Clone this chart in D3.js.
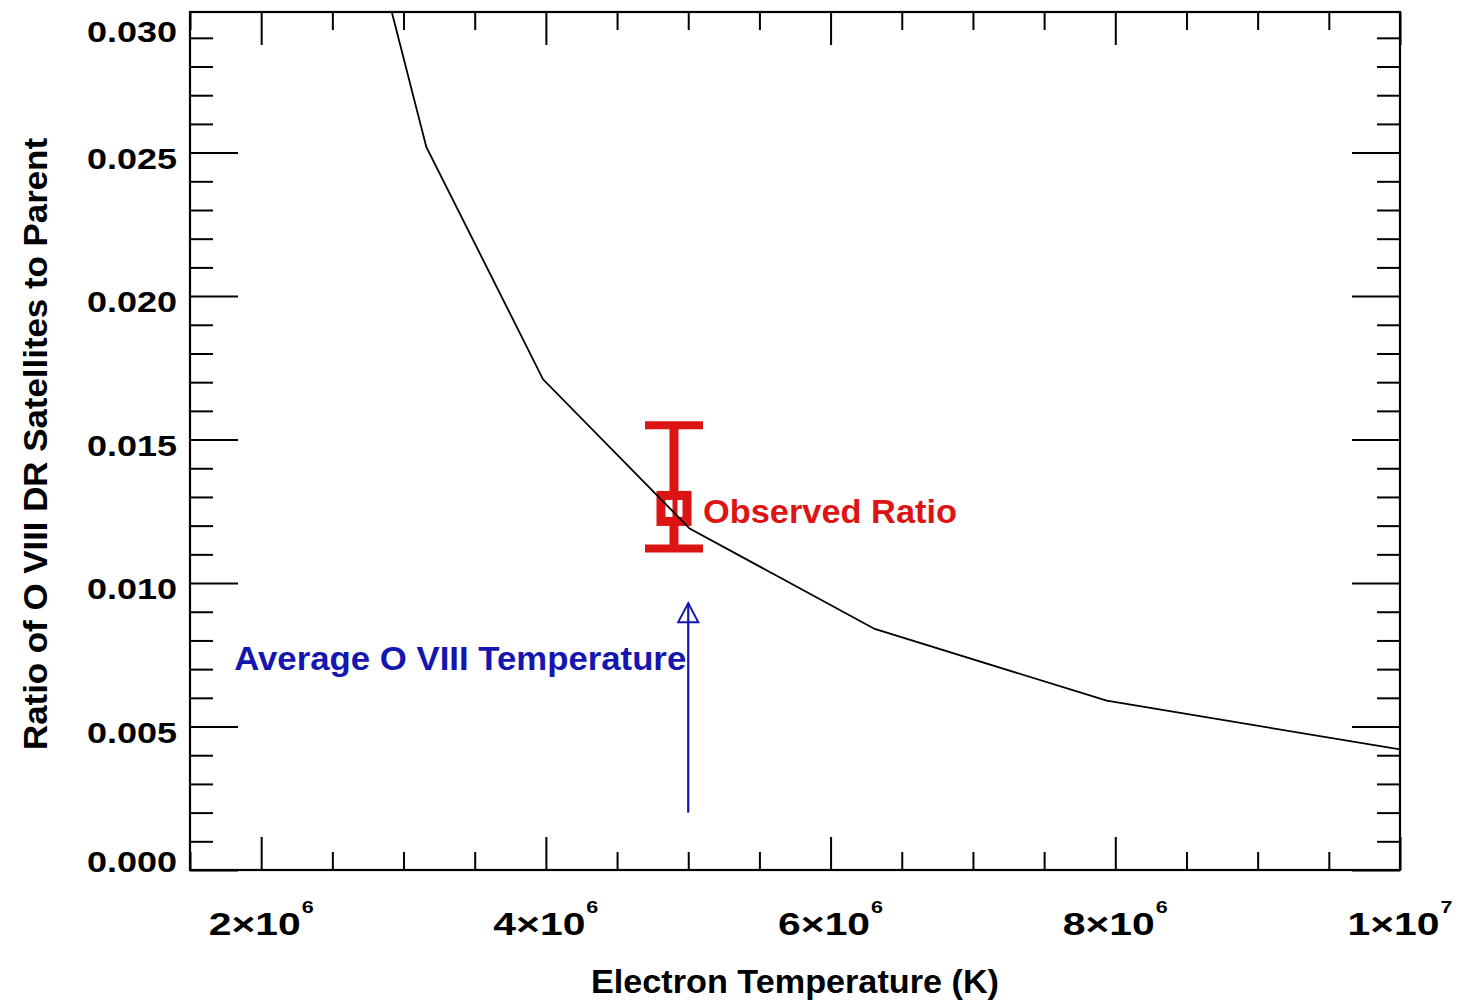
<!DOCTYPE html>
<html>
<head>
<meta charset="utf-8">
<script src="https://cdn.jsdelivr.net/npm/d3@7"></script>
<style>
  html, body { margin: 0; padding: 0; background: #fff; }
  svg { display: block; }
  text { font-family: "Liberation Sans", Arial, Helvetica, sans-serif; font-weight: bold; }
</style>
</head>
<body>
<svg id="chart" width="1462" height="1001"></svg>
<script>
// ---- data ----
const temps  = [2.51e6, 3.16e6, 3.98e6, 5.01e6, 6.31e6, 7.94e6, 1.0e7];
const ratios = [0.0378, 0.0252, 0.0171, 0.0119, 0.0084, 0.0059, 0.0042];

const obsT     = [4.9e6];
const obsRatio = [0.0126];
const obsLow   = [0.0112];
const obsHigh  = [0.0155];
const obsLabel = "Observed Ratio";

const avgT       = [5.0e6];
const arrowFrom  = [0.0020];
const arrowTo    = [0.0093];
const avgLabel   = "Average O VIII Temperature";

const xMajorTicks = [2e6, 4e6, 6e6, 8e6, 1e7];
const xTickBase   = ["2×10", "4×10", "6×10", "8×10", "1×10"];
const xTickExp    = ["6", "6", "6", "6", "7"];
const yMajorTicks = [0, 0.005, 0.010, 0.015, 0.020, 0.025, 0.030];
const yTickLabels = ["0.000", "0.005", "0.010", "0.015", "0.020", "0.025", "0.030"];

const xTitle = "Electron Temperature (K)";
const yTitle = "Ratio of O VIII DR Satellites to Parent";

// ---- layout ----
const L = 190, R = 1400, T = 12, B = 870;
const svg = d3.select("#chart");
const x = d3.scaleLinear().domain([1.5e6, 1.0e7]).range([L, R]);
const y = d3.scaleLinear().domain([0, 0.0299]).range([B, T]);

const xMinor = d3.range(1.5e6, 1.0e7 + 1, 0.5e6).filter(v => !xMajorTicks.some(m => Math.abs(m - v) < 1));
const yMinor = d3.range(0, 0.0300001, 0.001).filter(v => !yMajorTicks.some(m => Math.abs(m - v) < 1e-7) && y(v) >= T);

const ink = "#000";

function tickAxis(gen, scale, vals, size, transform) {
  const g = svg.append("g").attr("transform", transform)
    .call(gen(scale).tickValues(vals).tickSize(size).tickFormat(""));
  g.select(".domain").remove();
  g.selectAll("line").attr("stroke", ink).attr("stroke-width", 2);
}
tickAxis(d3.axisTop, x, xMajorTicks, 33, `translate(0,${B})`);
tickAxis(d3.axisTop, x, xMinor, 18, `translate(0,${B})`);
tickAxis(d3.axisBottom, x, xMajorTicks, 33, `translate(0,${T})`);
tickAxis(d3.axisBottom, x, xMinor, 18, `translate(0,${T})`);
tickAxis(d3.axisRight, y, yMajorTicks.filter(v => y(v) >= T), 48, `translate(${L},0)`);
tickAxis(d3.axisRight, y, yMinor, 23, `translate(${L},0)`);
tickAxis(d3.axisLeft, y, yMajorTicks.filter(v => y(v) >= T), 48, `translate(${R},0)`);
tickAxis(d3.axisLeft, y, yMinor, 23, `translate(${R},0)`);

svg.append("rect").attr("x", L).attr("y", T).attr("width", R - L).attr("height", B - T)
  .attr("fill", "none").attr("stroke", ink).attr("stroke-width", 2.2);

xMajorTicks.forEach((v, i) => {
  const cx = x(v);
  const baseW = 92, supW = 13;
  const x0 = cx - (baseW + supW) / 2;
  svg.append("text").attr("x", x0).attr("y", 935).attr("font-size", 31)
    .attr("textLength", baseW).attr("lengthAdjust", "spacingAndGlyphs").text(xTickBase[i]);
  svg.append("text").attr("x", x0 + baseW + 1).attr("y", 913).attr("font-size", 17)
    .attr("textLength", supW - 1).attr("lengthAdjust", "spacingAndGlyphs").text(xTickExp[i]);
});
yMajorTicks.forEach((v, i) => {
  const by = Math.max(42, Math.min(872, y(v) + 16));
  svg.append("text").attr("x", 177).attr("y", by).attr("font-size", 30)
    .attr("text-anchor", "end")
    .attr("textLength", 90).attr("lengthAdjust", "spacingAndGlyphs").text(yTickLabels[i]);
});

svg.append("text").attr("x", (L + R) / 2).attr("y", 993).attr("font-size", 34)
  .attr("text-anchor", "middle").attr("textLength", 408).attr("lengthAdjust", "spacingAndGlyphs")
  .text(xTitle);
svg.append("text").attr("transform", `translate(47,${(T + B) / 2 + 3}) rotate(-90)`)
  .attr("font-size", 34).attr("text-anchor", "middle")
  .attr("textLength", 612).attr("lengthAdjust", "spacingAndGlyphs").text(yTitle);

svg.append("clipPath").attr("id", "clip").append("rect")
  .attr("x", L).attr("y", T).attr("width", R - L).attr("height", B - T);

const line = d3.line().x(d => x(d[0])).y(d => y(d[1]));
const curveData = temps.map((t, i) => [t, ratios[i]]);

// observed point with error bar
const red = "#dc1414";
obsT.forEach((t, i) => {
  const cx = x(t), cy = y(obsRatio[i]);
  const g = svg.append("g");
  g.append("line").attr("x1", cx).attr("x2", cx).attr("y1", y(obsHigh[i])).attr("y2", y(obsLow[i]))
    .attr("stroke", red).attr("stroke-width", 9);
  g.append("line").attr("x1", cx - 29).attr("x2", cx + 29).attr("y1", y(obsHigh[i])).attr("y2", y(obsHigh[i]))
    .attr("stroke", red).attr("stroke-width", 8);
  g.append("line").attr("x1", cx - 29).attr("x2", cx + 29).attr("y1", y(obsLow[i])).attr("y2", y(obsLow[i]))
    .attr("stroke", red).attr("stroke-width", 8);
  g.append("rect").attr("x", cx - 13).attr("y", cy - 13).attr("width", 26).attr("height", 26)
    .attr("fill", "#fff").attr("stroke", red).attr("stroke-width", 9);
  g.append("line").attr("x1", cx + 1).attr("x2", cx + 1).attr("y1", cy - 13).attr("y2", cy + 13)
    .attr("stroke", red).attr("stroke-width", 5);
  svg.append("text").attr("x", cx + 29).attr("y", cy + 15).attr("font-size", 33).attr("fill", red)
    .attr("textLength", 254).attr("lengthAdjust", "spacingAndGlyphs").text(obsLabel);
});

// model curve (drawn over the marker, as in the reference)
svg.append("path").attr("clip-path", "url(#clip)")
  .datum(curveData)
  .attr("d", line).attr("fill", "none").attr("stroke", "#000").attr("stroke-width", 1.8);

// average temperature arrow
const blue = "#1515b0";
avgT.forEach((t, i) => {
  const ax = x(t), y0 = y(arrowFrom[i]), y1 = y(arrowTo[i]);
  svg.append("line").attr("x1", ax).attr("x2", ax).attr("y1", y0).attr("y2", y1)
    .attr("stroke", blue).attr("stroke-width", 2.2);
  svg.append("path")
    .attr("d", `M${ax},${y1} L${ax - 10},${y1 + 19} L${ax + 10},${y1 + 19} Z`)
    .attr("fill", "none").attr("stroke", blue).attr("stroke-width", 2);
  svg.append("text").attr("x", ax - 2).attr("y", 670).attr("font-size", 33).attr("fill", blue)
    .attr("text-anchor", "end")
    .attr("textLength", 452).attr("lengthAdjust", "spacingAndGlyphs").text(avgLabel);
});
</script>
</body>
</html>
